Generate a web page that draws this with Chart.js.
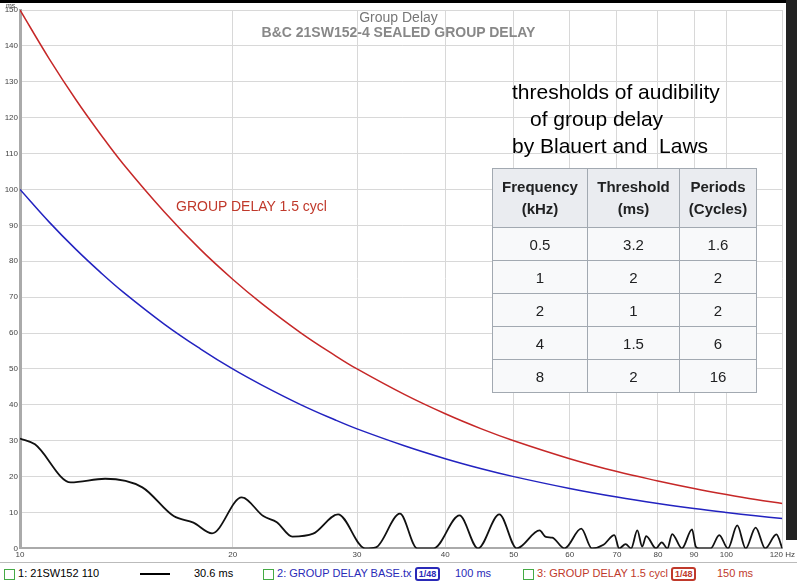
<!DOCTYPE html>
<html><head><meta charset="utf-8">
<script src="https://cdn.jsdelivr.net/npm/chart.js@4/dist/chart.umd.min.js"></script>
<style>
body{margin:0;width:797px;height:582px;background:#fff;position:relative;overflow:hidden;font-family:"Liberation Sans",Arial,sans-serif}
#wrap{position:absolute;left:0;top:0;width:797px;height:562px}
.t{position:absolute;white-space:nowrap}
table{position:absolute;left:492px;top:168px;border-collapse:collapse;background:#f8f9fa;font-size:15px;color:#202122}
td,th{border:1px solid #a2a9b1;text-align:center;padding:0}
th{background:#eaecf0;font-weight:bold;height:58px;line-height:22px}
td{height:32px}
#legend{position:absolute;left:0;top:562px;width:797px;height:20px;background:#fff;border-top:1px solid #bbb;font-size:11px}
.cb{display:inline-block;width:9px;height:9px;border:1px solid #4a4;vertical-align:middle}
</style></head><body>
<div id="wrap"><canvas id="c" width="797" height="562"></canvas></div>
<div class="t" style="left:0;top:0;width:797px;height:3px;background:#000"></div>
<div class="t" style="left:786px;top:0;width:11px;height:540px;background:#222"></div>
<div class="t" style="left:0;top:9px;width:797px;text-align:center;color:#777;font-size:14px">Group Delay</div>
<div class="t" style="left:0;top:24px;width:797px;text-align:center;color:#888;font-size:14px;font-weight:bold">B&amp;C 21SW152-4 SEALED GROUP DELAY</div>
<div class="t" style="left:176px;top:198px;color:#c0392b;font-size:14px">GROUP DELAY 1.5 cycl</div>
<div class="t" style="left:512px;top:80px;font-size:21px;color:#000">thresholds of audibility</div>
<div class="t" style="left:530px;top:107px;font-size:21px;color:#000">of group delay</div>
<div class="t" style="left:512px;top:134px;font-size:21px;color:#000">by Blauert and&nbsp; Laws</div>
<table>
<tr><th style="width:94px">Frequency<br>(kHz)</th><th style="width:91px">Threshold<br>(ms)</th><th style="width:76px">Periods<br>(Cycles)</th></tr>
<tr><td>0.5</td><td>3.2</td><td>1.6</td></tr>
<tr><td>1</td><td>2</td><td>2</td></tr>
<tr><td>2</td><td>1</td><td>2</td></tr>
<tr><td>4</td><td>1.5</td><td>6</td></tr>
<tr><td>8</td><td>2</td><td>16</td></tr>
</table>
<div id="legend">
<span class="t" style="left:4px;top:4px"><span class="cb"></span> 1: 21SW152 110</span>
<span class="t" style="left:140px;top:10px;width:30px;height:2px;background:#000"></span>
<span class="t" style="left:194px;top:4px">30.6 ms</span>
<span class="t" style="left:263px;top:4px;color:#2a2ab8"><span class="cb"></span> 2: GROUP DELAY BASE.tx <b style="border:2px solid #2a2ab8;border-radius:3px;padding:0 2px;font-size:9px">1/48</b></span>
<span class="t" style="left:455px;top:4px;color:#2a2ab8">100 ms</span>
<span class="t" style="left:523px;top:4px;color:#c0392b"><span class="cb"></span> 3: GROUP DELAY 1.5 cycl <b style="border:2px solid #c0392b;border-radius:3px;padding:0 2px;font-size:9px">1/48</b></span>
<span class="t" style="left:717px;top:4px;color:#c0392b">150 ms</span>
</div>
<script>
const xTicks=[10,20,30,40,50,60,70,80,90,100,120];
const yTicks=[0,10,20,30,40,50,60,70,80,90,100,110,120,130,140,150];
const refFreq=[10,11,12,13,14,16,18,20,22,25,28,30,35,40,45,50,60,70,80,90,100,110,120];
const redVals=[150,136.4,125,115.4,107.1,93.8,83.3,75,68.2,60,53.6,50,42.9,37.5,33.3,30,25,21.4,18.8,16.7,15,13.6,12.5];
const blueVals=[100,90.9,83.3,76.9,71.4,62.5,55.6,50,45.5,40,35.7,33.3,28.6,25,22.2,20,16.7,14.3,12.5,11.1,10,9.1,8.3];
const measFreq=[10,10.5,11.8,13.2,14.9,16.5,17.6,18.7,20.6,22.1,23.1,24.3,26,28.2,30.8,31.9,34.5,36.5,38.5,41.9,44.5,47.7,50.5,54.4,55.5,56.7,59,62.3,64.5,67,69.4,70.5,72,73.3,74.8,76,77,79.5,81,82.5,83.8,86.5,89.4,90.5,91.5,95,97.7,100.5,103.6,106.5,110,113.5,117.7,120];
const measVals=[30.6,29,18.4,19.4,17,9,7.2,4.2,14.2,9,7.3,3.3,4.1,9.5,0,0.3,9.7,0,0,9.2,0,9.5,0,5,3.2,3,0,5.5,0,1,3.7,0,1.2,0,5,0.5,3.4,0,1.7,0,4,0,5.3,0.5,0,0,3.7,0,6.4,0,5.8,0,3.9,0];
const toXY=(xs,ys)=>xs.map((x,i)=>({x,y:ys[i]}));
new Chart(document.getElementById('c'),{
 type:'line',
 data:{datasets:[
  {data:toXY(measFreq,measVals),borderColor:'#111',borderWidth:1.8,pointRadius:0,tension:0.4,cubicInterpolationMode:'monotone'},
  {data:toXY(refFreq,blueVals),borderColor:'#2323c0',borderWidth:1.5,pointRadius:0,tension:0.4},
  {data:toXY(refFreq,redVals),borderColor:'#c62828',borderWidth:1.5,pointRadius:0,tension:0.4}
 ]},
 options:{responsive:false,animation:false,
  layout:{padding:{left:0,right:14,top:10,bottom:0}},
  plugins:{legend:{display:false},tooltip:{enabled:false}},
  scales:{
   x:{type:'logarithmic',min:10,max:120,
    afterBuildTicks:a=>{a.ticks=xTicks.map(v=>({value:v}));},
    ticks:{autoSkip:false,maxRotation:0,color:'#444',font:{size:8},padding:2,callback:v=>v===120?'120 Hz':String(v)},
    grid:{color:'#d8d8d8',tickLength:0},border:{color:'#aaa',width:2}},
   y:{min:0,max:150,
    afterBuildTicks:a=>{a.ticks=yTicks.map(v=>({value:v}));},
    afterFit:a=>{a.width=20;},
    ticks:{color:'#444',font:{size:8},padding:2},
    grid:{color:'#d8d8d8',tickLength:0},border:{color:'#aaa',width:3}}
  }}
});
</script>
<div class="t" style="left:6px;top:2px;font-size:7px;color:#444">ms</div>
</body></html>
